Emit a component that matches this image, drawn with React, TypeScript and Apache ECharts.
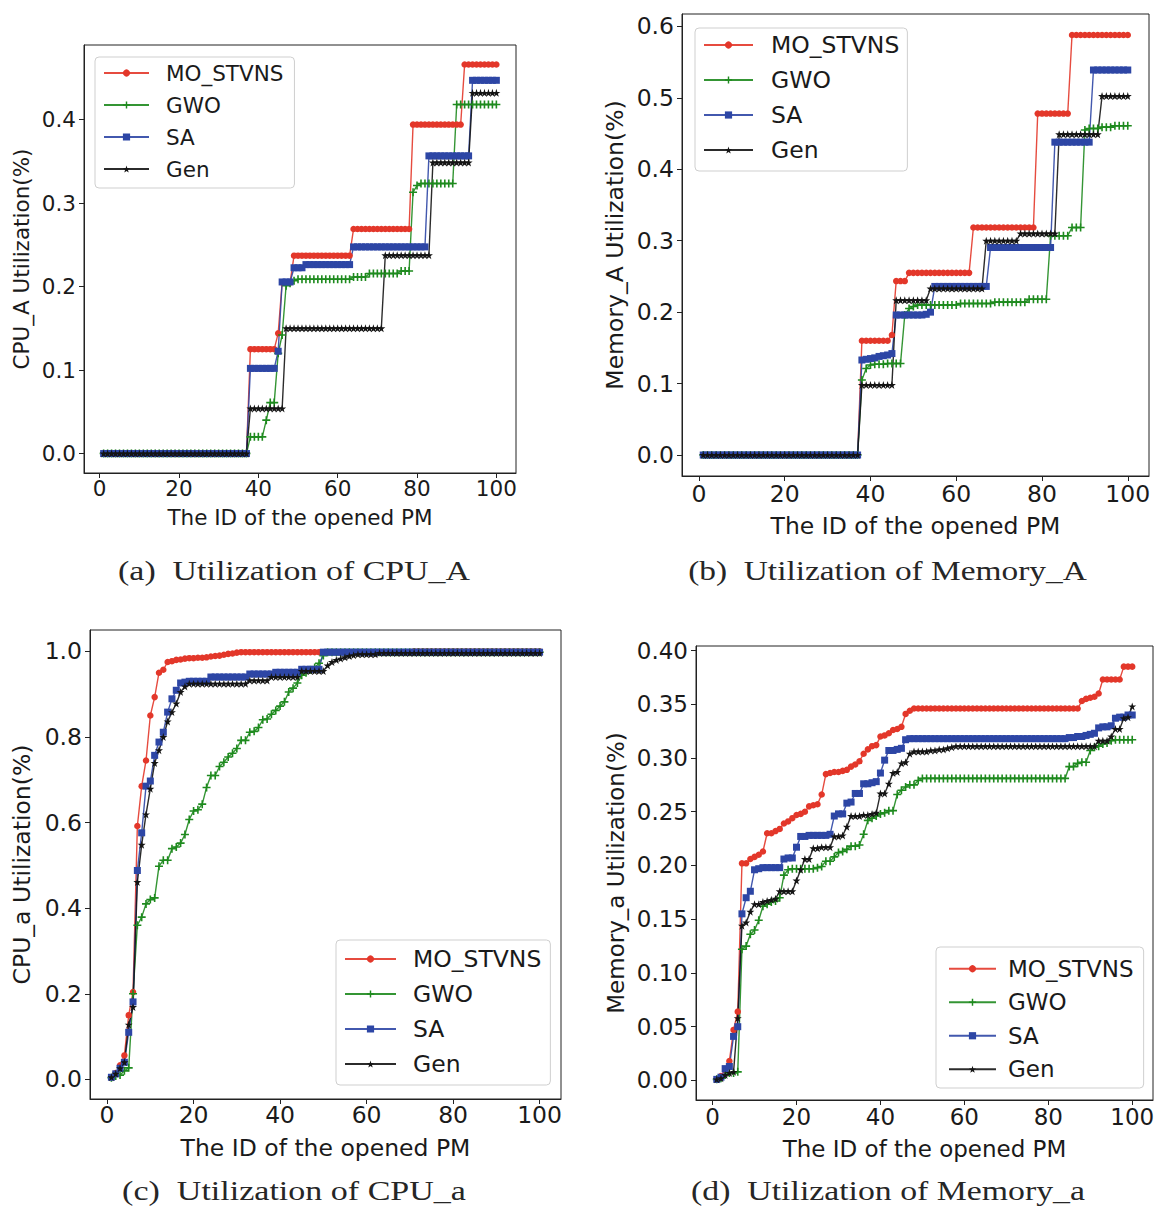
import React, { useEffect, useRef } from "react";
import * as echarts from "echarts";

// ---------- data ----------
const pmIds = [
  1, 2, 3, 4, 5, 6, 7, 8, 9, 10, 11, 12, 13, 14, 15, 16, 17, 18, 19, 20,
  21, 22, 23, 24, 25, 26, 27, 28, 29, 30, 31, 32, 33, 34, 35, 36, 37, 38, 39, 40,
  41, 42, 43, 44, 45, 46, 47, 48, 49, 50, 51, 52, 53, 54, 55, 56, 57, 58, 59, 60,
  61, 62, 63, 64, 65, 66, 67, 68, 69, 70, 71, 72, 73, 74, 75, 76, 77, 78, 79, 80,
  81, 82, 83, 84, 85, 86, 87, 88, 89, 90, 91, 92, 93, 94, 95, 96, 97, 98, 99, 100,
];

const algNames = ["MO_STVNS", "GWO", "SA", "Gen"];

// (a) CPU_A
const cpuA_MO = [
  0, 0, 0, 0, 0, 0, 0, 0, 0, 0,
  0, 0, 0, 0, 0, 0, 0, 0, 0, 0,
  0, 0, 0, 0, 0, 0, 0, 0, 0, 0,
  0, 0, 0, 0, 0, 0, 0, 0.125, 0.125, 0.125,
  0.125, 0.125, 0.125, 0.125, 0.144, 0.205, 0.205, 0.205, 0.237, 0.237,
  0.237, 0.237, 0.237, 0.237, 0.237, 0.237, 0.237, 0.237, 0.237, 0.237,
  0.237, 0.237, 0.237, 0.269, 0.269, 0.269, 0.269, 0.269, 0.269, 0.269,
  0.269, 0.269, 0.269, 0.269, 0.269, 0.269, 0.269, 0.269, 0.394, 0.394,
  0.394, 0.394, 0.394, 0.394, 0.394, 0.394, 0.394, 0.394, 0.394, 0.394,
  0.394, 0.466, 0.466, 0.466, 0.466, 0.466, 0.466, 0.466, 0.466, 0.466,
];
const cpuA_GWO = [
  0, 0, 0, 0, 0, 0, 0, 0, 0, 0,
  0, 0, 0, 0, 0, 0, 0, 0, 0, 0,
  0, 0, 0, 0, 0, 0, 0, 0, 0, 0,
  0, 0, 0, 0, 0, 0, 0, 0.02, 0.02, 0.02,
  0.02, 0.04, 0.061, 0.061, 0.12, 0.142, 0.201, 0.204, 0.207, 0.2087,
  0.2087, 0.2087, 0.2087, 0.2087, 0.2087, 0.2087, 0.2087, 0.2087, 0.2087, 0.2087,
  0.2087, 0.2087, 0.2087, 0.2115, 0.2115, 0.2115, 0.2115, 0.2156, 0.2156, 0.2156,
  0.2156, 0.2156, 0.2156, 0.2156, 0.2156, 0.2187, 0.2187, 0.2187, 0.313, 0.321,
  0.3234, 0.3234, 0.3234, 0.3234, 0.3234, 0.3234, 0.3234, 0.3234, 0.3234, 0.418,
  0.418, 0.418, 0.418, 0.418, 0.418, 0.418, 0.418, 0.418, 0.418, 0.418,
];
const cpuA_SA = [
  0, 0, 0, 0, 0, 0, 0, 0, 0, 0,
  0, 0, 0, 0, 0, 0, 0, 0, 0, 0,
  0, 0, 0, 0, 0, 0, 0, 0, 0, 0,
  0, 0, 0, 0, 0, 0, 0, 0.102, 0.102, 0.102,
  0.102, 0.102, 0.102, 0.102, 0.1225, 0.2055, 0.2055, 0.2055, 0.2225, 0.2225,
  0.2225, 0.2263, 0.2263, 0.2263, 0.2263, 0.2263, 0.2263, 0.2263, 0.2263, 0.2263,
  0.2263, 0.2263, 0.2263, 0.2475, 0.2475, 0.2475, 0.2475, 0.2475, 0.2475, 0.2475,
  0.2475, 0.2475, 0.2475, 0.2475, 0.2475, 0.2475, 0.2475, 0.2475, 0.2475, 0.2475,
  0.2475, 0.2475, 0.3565, 0.3565, 0.3565, 0.3565, 0.3565, 0.3565, 0.3565, 0.3565,
  0.3565, 0.3565, 0.3565, 0.447, 0.447, 0.447, 0.447, 0.447, 0.447, 0.447,
];
const cpuA_Gen = [
  0, 0, 0, 0, 0, 0, 0, 0, 0, 0,
  0, 0, 0, 0, 0, 0, 0, 0, 0, 0,
  0, 0, 0, 0, 0, 0, 0, 0, 0, 0,
  0, 0, 0, 0, 0, 0, 0, 0.054, 0.054, 0.054,
  0.054, 0.054, 0.054, 0.054, 0.054, 0.054, 0.15, 0.15, 0.15, 0.15,
  0.15, 0.15, 0.15, 0.15, 0.15, 0.15, 0.15, 0.15, 0.15, 0.15,
  0.15, 0.15, 0.15, 0.15, 0.15, 0.15, 0.15, 0.15, 0.15, 0.15,
  0.15, 0.2375, 0.2375, 0.2375, 0.2375, 0.2375, 0.2375, 0.2375, 0.2375, 0.2375,
  0.2375, 0.2375, 0.2375, 0.3485, 0.3485, 0.3485, 0.3485, 0.3485, 0.3485, 0.3485,
  0.3485, 0.3485, 0.3485, 0.432, 0.432, 0.432, 0.432, 0.432, 0.432, 0.432,
];

// (b) Memory_A
const memA_MO = [
  0, 0, 0, 0, 0, 0, 0, 0, 0, 0,
  0, 0, 0, 0, 0, 0, 0, 0, 0, 0,
  0, 0, 0, 0, 0, 0, 0, 0, 0, 0,
  0, 0, 0, 0, 0, 0, 0, 0.16, 0.16, 0.16,
  0.16, 0.16, 0.16, 0.16, 0.168, 0.2435, 0.2435, 0.2435, 0.255, 0.255,
  0.255, 0.255, 0.255, 0.255, 0.255, 0.255, 0.255, 0.255, 0.255, 0.255,
  0.255, 0.255, 0.255, 0.3185, 0.3185, 0.3185, 0.3185, 0.3185, 0.3185, 0.3185,
  0.3185, 0.3185, 0.3185, 0.3185, 0.3185, 0.3185, 0.3185, 0.3185, 0.478, 0.478,
  0.478, 0.478, 0.478, 0.478, 0.478, 0.478, 0.588, 0.588, 0.588, 0.588,
  0.588, 0.588, 0.588, 0.588, 0.588, 0.588, 0.588, 0.588, 0.588, 0.588,
];
const memA_GWO = [
  0, 0, 0, 0, 0, 0, 0, 0, 0, 0,
  0, 0, 0, 0, 0, 0, 0, 0, 0, 0,
  0, 0, 0, 0, 0, 0, 0, 0, 0, 0,
  0, 0, 0, 0, 0, 0, 0, 0.105, 0.121, 0.126,
  0.127, 0.127, 0.127, 0.128, 0.128, 0.128, 0.128, 0.196, 0.205, 0.208,
  0.21, 0.21, 0.21, 0.21, 0.21, 0.21, 0.21, 0.21, 0.21, 0.21,
  0.212, 0.212, 0.212, 0.212, 0.212, 0.212, 0.212, 0.212, 0.214, 0.214,
  0.214, 0.214, 0.214, 0.214, 0.214, 0.214, 0.218, 0.218, 0.218, 0.218,
  0.218, 0.307, 0.307, 0.307, 0.307, 0.307, 0.3185, 0.3185, 0.3185, 0.455,
  0.457, 0.457, 0.457, 0.459, 0.459, 0.459, 0.461, 0.461, 0.461, 0.461,
];
const memA_SA = [
  0, 0, 0, 0, 0, 0, 0, 0, 0, 0,
  0, 0, 0, 0, 0, 0, 0, 0, 0, 0,
  0, 0, 0, 0, 0, 0, 0, 0, 0, 0,
  0, 0, 0, 0, 0, 0, 0, 0.133, 0.134, 0.135,
  0.136, 0.138, 0.139, 0.14, 0.142, 0.196, 0.196, 0.196, 0.196, 0.196,
  0.196, 0.196, 0.197, 0.2, 0.236, 0.236, 0.236, 0.236, 0.236, 0.236,
  0.236, 0.236, 0.236, 0.236, 0.236, 0.236, 0.236, 0.2905, 0.2905, 0.2905,
  0.2905, 0.2905, 0.2905, 0.2905, 0.2905, 0.2905, 0.2905, 0.2905, 0.2905, 0.2905,
  0.2905, 0.2905, 0.438, 0.438, 0.438, 0.438, 0.438, 0.438, 0.438, 0.438,
  0.438, 0.539, 0.539, 0.539, 0.539, 0.539, 0.539, 0.539, 0.539, 0.539,
];
const memA_Gen = [
  0, 0, 0, 0, 0, 0, 0, 0, 0, 0,
  0, 0, 0, 0, 0, 0, 0, 0, 0, 0,
  0, 0, 0, 0, 0, 0, 0, 0, 0, 0,
  0, 0, 0, 0, 0, 0, 0, 0.098, 0.098, 0.098,
  0.098, 0.098, 0.098, 0.098, 0.098, 0.2166, 0.2166, 0.2166, 0.2166, 0.2166,
  0.2166, 0.2166, 0.2166, 0.233, 0.233, 0.233, 0.233, 0.233, 0.233, 0.233,
  0.233, 0.233, 0.233, 0.233, 0.233, 0.233, 0.3, 0.3, 0.3, 0.3,
  0.3, 0.3, 0.3, 0.3, 0.31, 0.31, 0.31, 0.31, 0.31, 0.31,
  0.31, 0.31, 0.31, 0.449, 0.449, 0.449, 0.449, 0.449, 0.449, 0.449,
  0.449, 0.449, 0.449, 0.5025, 0.5025, 0.5025, 0.5025, 0.5025, 0.5025, 0.5025,
];

// (c) CPU_a
const cpuS_MO = [
  0.005, 0.015, 0.033, 0.056, 0.15, 0.204, 0.592, 0.685, 0.745, 0.85,
  0.893, 0.95, 0.957, 0.975, 0.977, 0.98, 0.981, 0.983, 0.984, 0.984,
  0.985, 0.985, 0.986, 0.988, 0.989, 0.99, 0.992, 0.994, 0.995, 0.997,
  0.998, 0.998, 0.998, 0.998, 0.998, 0.998, 0.998, 0.998, 0.998, 0.998,
  0.998, 0.998, 0.998, 0.998, 0.998, 0.998, 0.998, 0.998, 0.998, 0.998,
  0.998, 0.998, 0.998, 0.998, 0.998, 0.998, 0.998, 0.998, 0.998, 0.998,
  0.998, 0.998, 0.998, 0.998, 0.998, 0.998, 0.998, 0.998, 0.998, 0.998,
  1.0, 1.0, 1.0, 1.0, 1.0, 1.0, 1.0, 1.0, 1.0, 1.0,
  1.0, 1.0, 1.0, 1.0, 1.0, 1.0, 1.0, 1.0, 1.0, 1.0,
  1.0, 1.0, 1.0, 1.0, 1.0, 1.0, 1.0, 1.0, 1.0, 1.0,
];
const cpuS_GWO = [
  0.004, 0.008, 0.01, 0.02, 0.027, 0.2, 0.36, 0.379, 0.41, 0.42,
  0.424, 0.498, 0.512, 0.512, 0.539, 0.543, 0.552, 0.572, 0.607, 0.627,
  0.63, 0.643, 0.682, 0.71, 0.71, 0.731, 0.741, 0.753, 0.762, 0.773,
  0.792, 0.792, 0.811, 0.813, 0.822, 0.84, 0.842, 0.853, 0.862, 0.872,
  0.882, 0.905, 0.914, 0.926, 0.944, 0.95, 0.957, 0.962, 0.972, 0.99,
  0.998, 0.998, 0.998, 0.998, 0.998, 0.998, 0.998, 0.998, 0.998, 0.998,
  0.998, 0.998, 0.998, 0.998, 0.998, 0.998, 0.998, 0.998, 0.998, 0.998,
  0.998, 0.998, 0.998, 0.998, 0.998, 0.998, 0.998, 0.998, 0.998, 0.998,
  0.998, 0.998, 0.998, 0.998, 0.998, 0.998, 0.998, 0.998, 0.998, 0.998,
  0.998, 0.998, 0.998, 0.998, 0.998, 0.998, 0.998, 0.998, 0.998, 0.998,
];
const cpuS_SA = [
  0.005, 0.013, 0.026, 0.04, 0.11, 0.181, 0.488, 0.576, 0.685, 0.697,
  0.757, 0.788, 0.811, 0.858, 0.889, 0.909, 0.926, 0.928, 0.93, 0.93,
  0.93, 0.93, 0.93, 0.94, 0.94, 0.94, 0.94, 0.94, 0.94, 0.94,
  0.94, 0.94, 0.947, 0.947, 0.947, 0.947, 0.947, 0.947, 0.951, 0.951,
  0.951, 0.951, 0.951, 0.951, 0.958, 0.958, 0.958, 0.958, 0.958, 0.998,
  0.998, 0.998, 0.998, 0.998, 0.998, 0.998, 0.998, 0.998, 0.998, 0.998,
  0.998, 0.998, 0.998, 0.998, 0.998, 0.998, 0.998, 0.998, 0.998, 0.998,
  0.998, 0.998, 0.998, 0.998, 0.998, 0.998, 0.998, 0.998, 0.998, 0.998,
  0.998, 0.998, 0.998, 0.998, 0.998, 0.998, 0.998, 0.998, 0.998, 0.998,
  0.998, 0.998, 0.998, 0.998, 0.998, 0.998, 0.998, 0.998, 0.998, 0.998,
];
const cpuS_Gen = [
  0.005, 0.013, 0.026, 0.04, 0.128, 0.169, 0.461, 0.548, 0.619, 0.679,
  0.739, 0.769, 0.8, 0.836, 0.858, 0.878, 0.905, 0.918, 0.9245, 0.9245,
  0.9245, 0.9245, 0.9245, 0.9245, 0.9245, 0.9245, 0.9245, 0.9245, 0.9245, 0.9245,
  0.9245, 0.9245, 0.932, 0.932, 0.932, 0.932, 0.932, 0.94, 0.94, 0.94,
  0.94, 0.94, 0.94, 0.94, 0.954, 0.954, 0.954, 0.954, 0.954, 0.954,
  0.967, 0.975, 0.98, 0.983, 0.986, 0.989, 0.991, 0.993, 0.993, 0.993,
  0.993, 0.993, 0.996, 0.996, 0.996, 0.996, 0.996, 0.996, 0.996, 0.996,
  0.996, 0.996, 0.996, 0.996, 0.996, 0.996, 0.996, 0.996, 0.996, 0.996,
  0.996, 0.996, 0.996, 0.996, 0.996, 0.996, 0.996, 0.996, 0.996, 0.996,
  0.996, 0.996, 0.996, 0.996, 0.996, 0.996, 0.996, 0.996, 0.996, 0.996,
];

// (d) Memory_a
const memS_MO = [
  0.001, 0.004, 0.01, 0.018, 0.047, 0.064, 0.202, 0.202, 0.206, 0.208,
  0.21, 0.213, 0.23, 0.23, 0.232, 0.234, 0.239, 0.241, 0.244, 0.247,
  0.248, 0.25, 0.255, 0.256, 0.257, 0.266, 0.285, 0.286, 0.287, 0.287,
  0.288, 0.289, 0.292, 0.294, 0.297, 0.304, 0.308, 0.311, 0.312, 0.32,
  0.321, 0.323, 0.326, 0.327, 0.329, 0.341, 0.344, 0.346, 0.346, 0.346,
  0.346, 0.346, 0.346, 0.346, 0.346, 0.346, 0.346, 0.346, 0.346, 0.346,
  0.346, 0.346, 0.346, 0.346, 0.346, 0.346, 0.346, 0.346, 0.346, 0.346,
  0.346, 0.346, 0.346, 0.346, 0.346, 0.346, 0.346, 0.346, 0.346, 0.346,
  0.346, 0.346, 0.346, 0.346, 0.346, 0.346, 0.346, 0.353, 0.355, 0.356,
  0.357, 0.36, 0.373, 0.373, 0.373, 0.373, 0.373, 0.385, 0.385, 0.385,
];
const memS_GWO = [
  0.001, 0.002, 0.005, 0.007, 0.007, 0.008, 0.122, 0.125, 0.136, 0.14,
  0.149, 0.162, 0.164, 0.166, 0.167, 0.17, 0.191, 0.196, 0.197, 0.197,
  0.197, 0.197, 0.197, 0.197, 0.198, 0.199, 0.204, 0.204, 0.208, 0.212,
  0.213, 0.215, 0.218, 0.218, 0.219, 0.229, 0.242, 0.244, 0.246, 0.248,
  0.249, 0.251, 0.251, 0.266, 0.27, 0.273, 0.275, 0.275, 0.279, 0.281,
  0.281, 0.281, 0.281, 0.281, 0.281, 0.281, 0.281, 0.281, 0.281, 0.281,
  0.281, 0.281, 0.281, 0.281, 0.281, 0.281, 0.281, 0.281, 0.281, 0.281,
  0.281, 0.281, 0.281, 0.281, 0.281, 0.281, 0.281, 0.281, 0.281, 0.281,
  0.281, 0.281, 0.281, 0.281, 0.292, 0.292, 0.295, 0.296, 0.296, 0.307,
  0.31, 0.311, 0.313, 0.314, 0.316, 0.317, 0.317, 0.317, 0.317, 0.317,
];
const memS_SA = [
  0.001, 0.003, 0.011, 0.013, 0.041, 0.05, 0.155, 0.17, 0.176, 0.196,
  0.197, 0.198, 0.198, 0.198, 0.198, 0.198, 0.206, 0.207, 0.207, 0.217,
  0.227, 0.227, 0.228, 0.228, 0.228, 0.228, 0.228, 0.229, 0.246, 0.248,
  0.248, 0.258, 0.259, 0.267, 0.267, 0.276, 0.276, 0.277, 0.278, 0.286,
  0.298, 0.307, 0.307, 0.308, 0.309, 0.317, 0.318, 0.318, 0.318, 0.318,
  0.318, 0.318, 0.318, 0.318, 0.318, 0.318, 0.318, 0.318, 0.318, 0.318,
  0.318, 0.318, 0.318, 0.318, 0.318, 0.318, 0.318, 0.318, 0.318, 0.318,
  0.318, 0.318, 0.318, 0.318, 0.318, 0.318, 0.318, 0.318, 0.318, 0.318,
  0.318, 0.318, 0.318, 0.318, 0.319, 0.319, 0.32, 0.32, 0.321, 0.322,
  0.323, 0.328, 0.329, 0.329, 0.33, 0.337, 0.338, 0.338, 0.34, 0.34,
];
const memS_Gen = [
  0.001, 0.002, 0.005, 0.007, 0.008, 0.058, 0.144, 0.147, 0.157, 0.164,
  0.164, 0.166, 0.167, 0.168, 0.169, 0.176, 0.176, 0.176, 0.176, 0.186,
  0.196, 0.206, 0.206, 0.216, 0.216, 0.217, 0.217, 0.217, 0.227, 0.227,
  0.228, 0.236, 0.246, 0.246, 0.246, 0.247, 0.247, 0.248, 0.249, 0.267,
  0.267, 0.276, 0.286, 0.287, 0.295, 0.296, 0.304, 0.306, 0.306, 0.306,
  0.306, 0.307, 0.307, 0.308, 0.308, 0.309, 0.31, 0.311, 0.311, 0.311,
  0.311, 0.311, 0.311, 0.311, 0.311, 0.311, 0.311, 0.311, 0.311, 0.311,
  0.311, 0.311, 0.311, 0.311, 0.311, 0.311, 0.311, 0.311, 0.311, 0.311,
  0.311, 0.311, 0.311, 0.311, 0.311, 0.311, 0.311, 0.311, 0.311, 0.311,
  0.311, 0.316, 0.316, 0.316, 0.32, 0.327, 0.327, 0.337, 0.338, 0.348,
];

const xTicks = [0, 20, 40, 60, 80, 100];
const yTicksA = [0, 0.1, 0.2, 0.3, 0.4];
const yTicksB = [0, 0.1, 0.2, 0.3, 0.4, 0.5, 0.6];
const yTicksC = [0, 0.2, 0.4, 0.6, 0.8, 1.0];
const yTicksD = [0, 0.05, 0.1, 0.15, 0.2, 0.25, 0.3, 0.35, 0.4];

// ---------- styles ----------
const FONT = "DejaVu Sans";
const TEXT = "#1a1a1a";
const FRAME = "#222222";
const algColors = ["#e3372a", "#1e8a1e", "#2d46a5", "#141414"];
const PLUS = "path://M4,0H6V4H10V6H6V10H4V6H0V4H4Z";
const STAR =
  "path://M50,0L61.8,36.2L100,36.2L69.1,58.8L80.9,95.1L50,72.7L19.1,95.1L30.9,58.8L0,36.2L38.2,36.2Z";
const algSymbols = ["circle", PLUS, "rect", STAR];
const algSymbolSizes = [6.5, 8, 7, 8];

const panels = [
  {
    grid: { left: 84, top: 45, width: 432, height: 428 },
    fs: 21.5,
    yTicks: yTicksA,
    dec: 1,
    yName: "CPU_A Utilization(%)",
    yGap: 52,
    xGap: 33,
    xMargin: 4,
    lg: { left: 95, top: 57, iw: 45, gap: 10, lh: 22, pad: [5, 11, 8, 8], tp: 12 },
    cap: { text: "(a)  Utilization of CPU_A", x: 294, y: 571, w: 352 },
    data: [cpuA_MO, cpuA_GWO, cpuA_SA, cpuA_Gen],
  },
  {
    grid: { left: 682, top: 14, width: 467, height: 462 },
    fs: 23.5,
    yTicks: yTicksB,
    dec: 1,
    yName: "Memory_A Utilization(%)",
    yGap: 55,
    xGap: 38,
    xMargin: 6,
    lg: { left: 695, top: 28, iw: 49, gap: 11, lh: 24, pad: [5, 8, 9, 8], tp: 13 },
    cap: { text: "(b)  Utilization of Memory_A", x: 887.5, y: 571, w: 399 },
    data: [memA_MO, memA_GWO, memA_SA, memA_Gen],
  },
  {
    grid: { left: 90, top: 630, width: 471, height: 469 },
    fs: 23.5,
    yTicks: yTicksC,
    dec: 1,
    yName: "CPU_a Utilization(%)",
    yGap: 56,
    xGap: 37,
    xMargin: 4,
    lg: { left: 336, top: 940, iw: 51, gap: 11, lh: 24, pad: [7, 9, 9, 8], tp: 12 },
    cap: { text: "(c)  Utilization of CPU_a", x: 294, y: 1191, w: 344 },
    data: [cpuS_MO, cpuS_GWO, cpuS_SA, cpuS_Gen],
  },
  {
    grid: { left: 696, top: 646, width: 457, height: 454 },
    fs: 23,
    yTicks: yTicksD,
    dec: 2,
    yName: "Memory_a Utilization(%)",
    yGap: 69,
    xGap: 37,
    xMargin: 5,
    lg: { left: 936, top: 947, iw: 47, gap: 10, lh: 23.5, pad: [10, 10, 7, 12], tp: 7 },
    cap: { text: "(d)  Utilization of Memory_a", x: 888, y: 1191, w: 394 },
    data: [memS_MO, memS_GWO, memS_SA, memS_Gen],
  },
];

function measureText(text: string, font: string): number {
  const ctx = document.createElement("canvas").getContext("2d");
  if (!ctx) return text.length * 12;
  ctx.font = font;
  return ctx.measureText(text).width;
}

function paddedExtent(arrs: number[][]): [number, number] {
  let mn = Infinity;
  let mx = -Infinity;
  arrs.forEach((a) =>
    a.forEach((v) => {
      if (v < mn) mn = v;
      if (v > mx) mx = v;
    })
  );
  const r = mx - mn;
  return [mn - 0.05 * r, mx + 0.05 * r];
}

function buildOption() {
  const xMinId = pmIds[0];
  const xMaxId = pmIds[pmIds.length - 1];
  const xr = xMaxId - xMinId;
  const xMin = xMinId - 0.05 * xr;
  const xMax = xMaxId + 0.05 * xr;

  const capFontSize = 27;
  const capFamily = "Liberation Serif";

  return {
    animation: false,
    backgroundColor: "#ffffff",
    grid: panels.map((p) => ({
      ...p.grid,
      show: true,
      borderColor: FRAME,
      borderWidth: 1,
      backgroundColor: "transparent",
      containLabel: false,
      outerBoundsMode: "none",
    })),
    xAxis: panels.map((p, i) => ({
      type: "value",
      gridIndex: i,
      min: xMin,
      max: xMax,
      name: "The ID of the opened PM",
      nameLocation: "middle",
      nameGap: p.xGap,
      nameMoveOverlap: false,
      nameTextStyle: { fontFamily: FONT, fontSize: p.fs, color: TEXT },
      axisLine: { show: true, onZero: false, lineStyle: { color: FRAME, width: 1 } },
      axisTick: { show: true, inside: false, length: 5, customValues: xTicks, lineStyle: { color: FRAME, width: 1 } },
      axisLabel: {
        customValues: xTicks,
        fontFamily: FONT,
        fontSize: p.fs,
        color: TEXT,
        margin: p.xMargin,
        formatter: (v: number) => String(Math.round(v)),
      },
      splitLine: { show: false },
    })),
    yAxis: panels.map((p, i) => {
      const [mn, mx] = paddedExtent(p.data);
      return {
        type: "value",
        gridIndex: i,
        min: mn,
        max: mx,
        name: p.yName,
        nameLocation: "middle",
        nameGap: p.yGap,
        nameMoveOverlap: false,
        nameTextStyle: { fontFamily: FONT, fontSize: p.fs, color: TEXT },
        axisLine: { show: true, onZero: false, lineStyle: { color: FRAME, width: 1 } },
        axisTick: { show: true, inside: false, length: 5, customValues: p.yTicks, lineStyle: { color: FRAME, width: 1 } },
        axisLabel: {
          customValues: p.yTicks,
          fontFamily: FONT,
          fontSize: p.fs,
          color: TEXT,
          margin: 8,
          formatter: (v: number) => v.toFixed(p.dec),
        },
        splitLine: { show: false },
      };
    }),
    legend: panels.map((p) => ({
      data: algNames,
      orient: "vertical",
      left: p.lg.left,
      top: p.lg.top,
      itemWidth: p.lg.iw,
      itemHeight: 9,
      itemGap: p.lg.gap,
      padding: p.lg.pad,
      borderColor: "#cfcfcf",
      borderWidth: 1,
      borderRadius: 4,
      backgroundColor: "rgba(255,255,255,0.85)",
      selectedMode: false,
      textStyle: {
        fontFamily: FONT,
        fontSize: p.fs,
        color: TEXT,
        lineHeight: p.lg.lh,
        padding: [0, 0, 0, p.lg.tp],
      },
    })),
    series: panels.flatMap((p, i) =>
      p.data.map((vals, k) => ({
        type: "line",
        name: algNames[k],
        xAxisIndex: i,
        yAxisIndex: i,
        data: pmIds.map((id, j) => [id, vals[j]]),
        symbol: algSymbols[k],
        symbolSize: algSymbolSizes[k],
        showSymbol: true,
        showAllSymbol: true,
        lineStyle: { color: algColors[k], width: 1.4, opacity: 0.9 },
        itemStyle: { color: algColors[k], opacity: 1 },
        emphasis: { disabled: true },
        silent: true,
      }))
    ),
    graphic: panels.map((p) => {
      const w = measureText(p.cap.text, `${capFontSize}px "${capFamily}"`);
      return {
        type: "text",
        x: p.cap.x,
        y: p.cap.y,
        scaleX: p.cap.w / w,
        silent: true,
        style: {
          text: p.cap.text,
          fontSize: capFontSize,
          fontFamily: capFamily,
          fill: "#262626",
          align: "center",
          verticalAlign: "middle",
          textAlign: "center",
          textVerticalAlign: "middle",
        },
      };
    }),
  };
}

export default function App() {
  const ref = useRef<HTMLDivElement>(null);
  useEffect(() => {
    if (!ref.current) return;
    const chart = echarts.init(ref.current, null, { renderer: "svg" });
    chart.setOption(buildOption() as any);
    return () => chart.dispose();
  }, []);
  return (
    <div
      ref={ref}
      style={{ position: "absolute", left: 0, top: 0, width: 1155, height: 1206, background: "#ffffff" }}
    />
  );
}
